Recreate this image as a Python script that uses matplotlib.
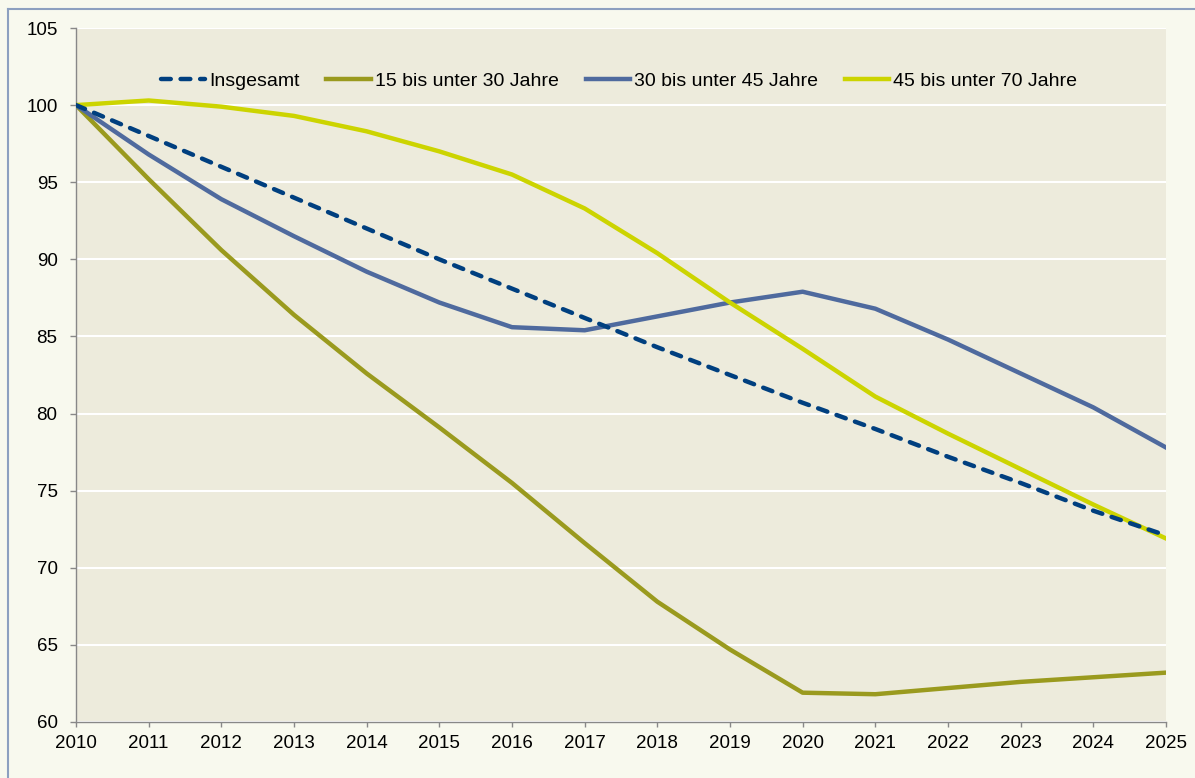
import numpy as np
import matplotlib.pyplot as plt
from matplotlib.lines import Line2D

plt.rcParams['font.family'] = ['Liberation Sans', 'DejaVu Sans']

###############################
# data (index, 2010 = 100)
years = list(range(2010, 2026))
insgesamt = [100, 98.0, 96.0, 94.0, 92.0, 90.0, 88.1, 86.2, 84.3, 82.5,
             80.7, 79.0, 77.2, 75.5, 73.7, 72.1]
u15_30 = [100, 95.2, 90.6, 86.4, 82.6, 79.1, 75.5, 71.6, 67.8, 64.7,
          61.9, 61.8, 62.2, 62.6, 62.9, 63.2]
u30_45 = [100, 96.8, 93.9, 91.5, 89.2, 87.2, 85.6, 85.4, 86.3, 87.2,
          87.9, 86.8, 84.8, 82.6, 80.4, 77.8]
u45_70 = [100, 100.3, 99.9, 99.3, 98.3, 97.0, 95.5, 93.3, 90.4, 87.2,
          84.2, 81.1, 78.7, 76.4, 74.1, 71.9]
labels = ['Insgesamt', '15 bis unter 30 Jahre', '30 bis unter 45 Jahre',
          '45 bis unter 70 Jahre']
yticks = list(range(60, 106, 5))

###############################
# styles
c_ins = '#003F7F'
c_15 = '#9A9A1E'
c_30 = '#4F6A9E'
c_45 = '#CCD400'
bg_fig = '#F8F9EE'
bg_ax = '#EDEBDC'
lw = 3.2
dash = (0, (2.2, 2.2))

fig = plt.figure(figsize=(11.95, 7.78), dpi=100, facecolor=bg_fig)
ax = fig.add_axes([0.0636, 0.072, 0.9121, 0.892])
ax.set_facecolor(bg_ax)

ax.plot(years, u15_30, color=c_15, lw=lw, zorder=3)
ax.plot(years, u30_45, color=c_30, lw=lw, zorder=3)
ax.plot(years, u45_70, color=c_45, lw=lw, zorder=3)
ax.plot(years, insgesamt, color=c_ins, lw=lw, ls=dash,
        dash_capstyle='round', zorder=4)

ax.set_xlim(2010, 2025)
ax.set_ylim(60, 105)
ax.set_xticks(years)
ax.set_yticks(yticks)
ax.tick_params(labelsize=13.5, colors='#888888', labelcolor='black',
               direction='out', width=1)
ax.tick_params(axis='x', length=3.6, pad=6)
ax.tick_params(axis='y', length=4.3, pad=9)
ax.grid(axis='y', color='white', lw=1.5)
ax.set_axisbelow(True)
for s in ['top', 'right']:
    ax.spines[s].set_visible(False)
for s in ['left', 'bottom']:
    ax.spines[s].set_color('#888888')
    ax.spines[s].set_linewidth(1)

handles = [Line2D([], [], color=c_ins, lw=lw, ls=dash, dash_capstyle='round'),
           Line2D([], [], color=c_15, lw=lw),
           Line2D([], [], color=c_30, lw=lw),
           Line2D([], [], color=c_45, lw=lw)]
leg = ax.legend(handles, labels, loc='center', bbox_to_anchor=(0.498, 0.9236),
                ncol=4, frameon=False, fontsize=14, handlelength=2.27,
                handletextpad=0.2, columnspacing=1.4)

# outer frame
fig.add_artist(Line2D([0.0067, 0.0067], [0.0, 0.989], color='#8DA0C0',
                      lw=1.5, transform=fig.transFigure))
fig.add_artist(Line2D([0.0067, 1.0], [0.989, 0.989], color='#8DA0C0',
                      lw=1.5, transform=fig.transFigure))

plt.savefig('out.png', dpi=100, facecolor=bg_fig)
